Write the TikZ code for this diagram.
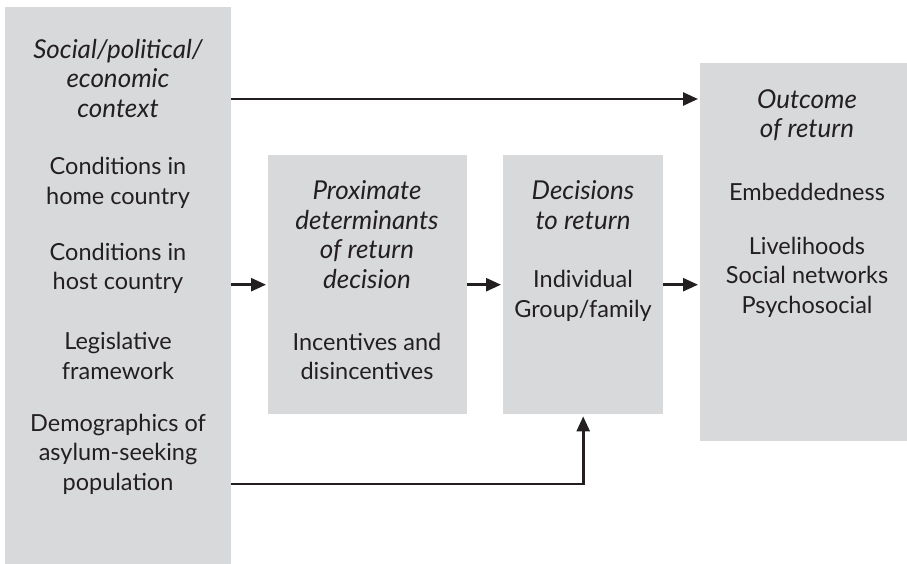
\documentclass[tikz,border=0pt]{standalone}
\usepackage{fontspec}
\setmainfont{Lato}
\usetikzlibrary{arrows.meta}
\definecolor{boxgray}{RGB}{216,217,219}
\definecolor{ink}{RGB}{35,31,32}
\tikzset{
  panel/.style={fill=boxgray, draw=none, inner sep=0pt, anchor=north west},
  label/.style={text=ink, align=center, inner sep=0pt,
    font=\fontsize{23.5}{29.5}\selectfont},
  title/.style={label, font=\fontsize{26}{29.5}\selectfont\itshape},
  flow/.style={draw=ink, line width=2.6pt, shorten >=2pt,
    -{Triangle[length=15pt,width=13pt]}},
}
\begin{document}
\begin{tikzpicture}[x=1pt,y=-1pt]
\useasboundingbox (0,0) rectangle (907,564);
% boxes
\node[panel, minimum width=226pt, minimum height=557pt] (ctx) at (5,7) {};
\node[panel, minimum width=199pt, minimum height=259pt] (prox) at (268,155) {};
\node[panel, minimum width=160pt, minimum height=259pt] (dec) at (503,155) {};
\node[panel, minimum width=207pt, minimum height=378pt] (out) at (700,63) {};
% texts
\node[title] (ctxT) at (118,78.5) {Social/political/\\economic\\context};
\node[label] (ctxA) at (118,183) {Conditions in\\home country};
\node[label] (ctxB) at (118,268.5) {Conditions in\\host country};
\node[label] (ctxC) at (118,356) {Legislative\\framework};
\node[label] (ctxD) at (118,454) {Demographics of\\asylum-seeking\\population};
\node[title] (proxT) at (367,234.5) {Proximate\\determinants\\of return\\decision};
\node[label] (proxA) at (367,356.5) {Incentives and\\disincentives};
\node[title] (decT) at (583,205) {Decisions\\to return};
\node[label] (decA) at (583,296) {Individual\\Group/family};
\node[title] (outT) at (807,115) {Outcome\\of return};
\node[label] (outA) at (807,192) {Embeddedness};
\node[label] (outB) at (807,277) {Livelihoods\\Social networks\\Psychosocial};
% connectors
\coordinate (topy) at (0,99);
\coordinate (boty) at (0,484);
\draw[flow] (ctx.east |- topy) -- (out.west |- topy);
\draw[flow] (ctx.east |- prox.west) -- (prox.west);
\draw[flow] (prox.east) -- (dec.west);
\draw[flow] (dec.east) -- (out.west |- dec.east);
\draw[flow] (ctx.east |- boty) -| (dec.south);
\end{tikzpicture}
\end{document}
